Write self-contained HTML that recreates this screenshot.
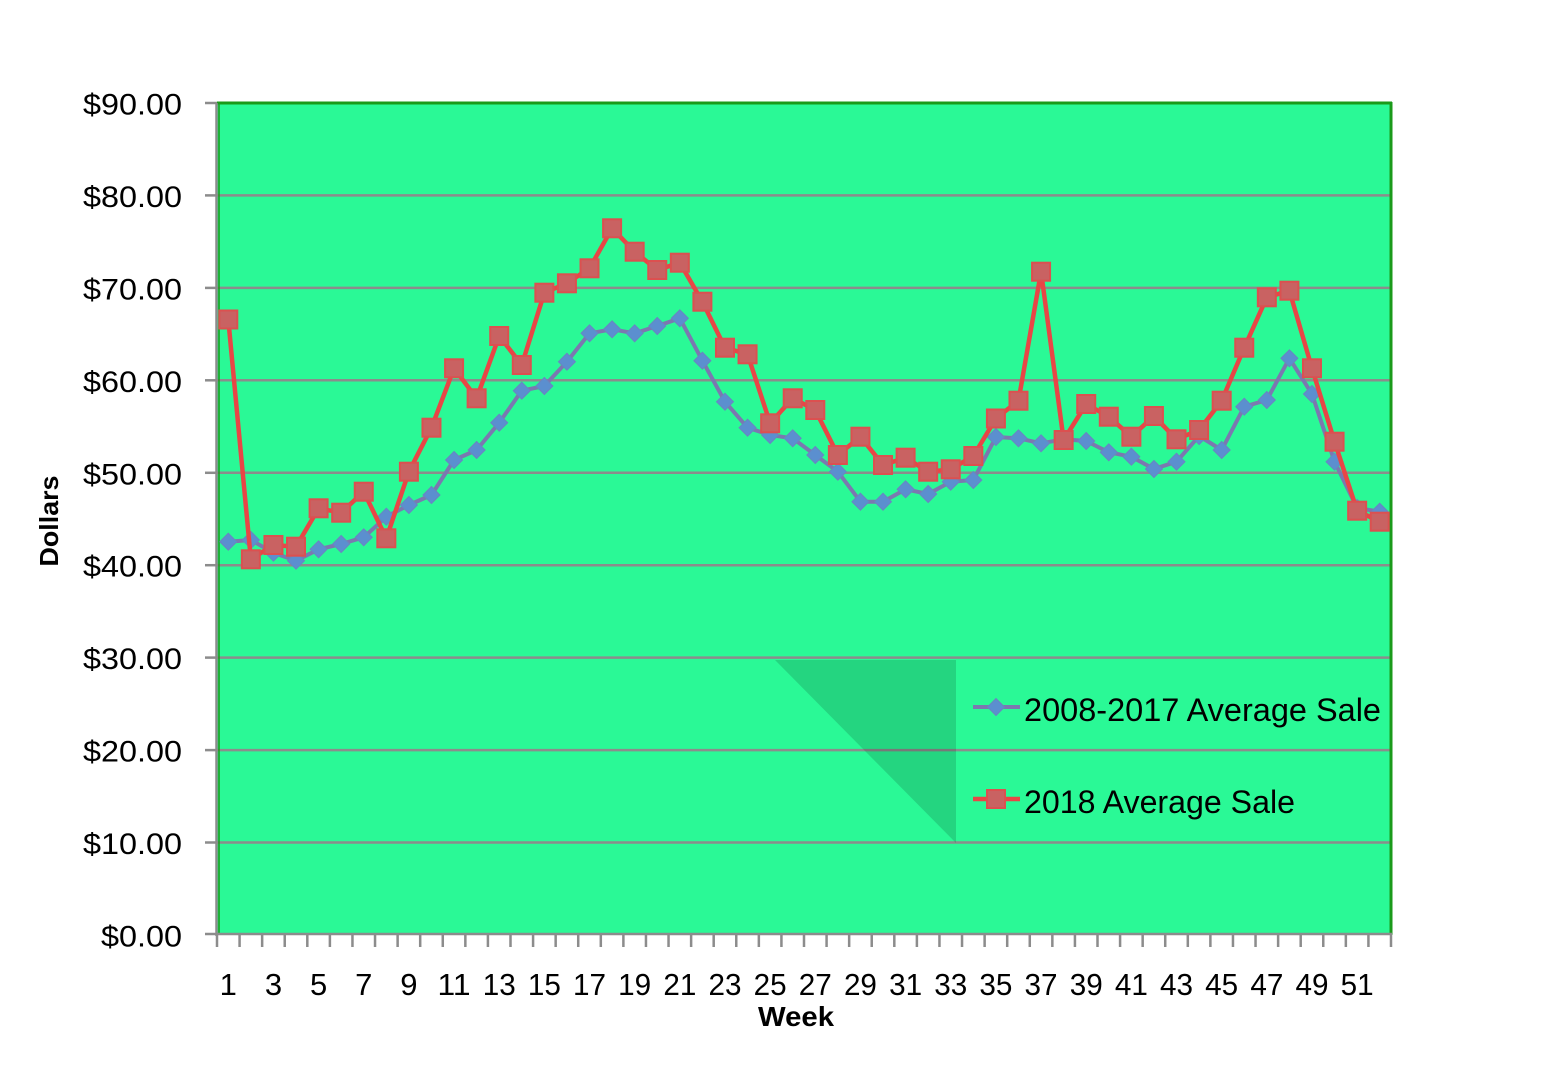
<!DOCTYPE html>
<html>
<head>
<meta charset="utf-8">
<style>
  html,body{margin:0;padding:0;background:#fff;}
  svg{display:block;}
  text{font-family:"Liberation Sans",Arial,sans-serif;fill:#000;}
</style>
</head>
<body>
<svg width="1568" height="1068" viewBox="0 0 1568 1068" xmlns="http://www.w3.org/2000/svg">
  <defs>
    <path id="dm" d="M0 -8.5L8.5 0L0 8.5L-8.5 0Z" fill="#5b8fcf" stroke="#6a86c0" stroke-width="1"/>
    <rect id="sq" x="-9" y="-9" width="18" height="18" fill="#c96262" stroke="#dc5050" stroke-width="2"/>
  </defs>

  <!-- plot background -->
  <rect x="217" y="103" width="1174" height="832" fill="#2af996"/>

  <!-- gridlines -->
  <g stroke="#8c8c8c" stroke-width="2.5">
    <line x1="217" y1="195.4" x2="1391" y2="195.4"/>
    <line x1="217" y1="287.9" x2="1391" y2="287.9"/>
    <line x1="217" y1="380.3" x2="1391" y2="380.3"/>
    <line x1="217" y1="472.8" x2="1391" y2="472.8"/>
    <line x1="217" y1="565.2" x2="1391" y2="565.2"/>
    <line x1="217" y1="657.6" x2="1391" y2="657.6"/>
    <line x1="217" y1="750.1" x2="1391" y2="750.1"/>
    <line x1="217" y1="842.5" x2="1391" y2="842.5"/>
  </g>

  <!-- legend shadow -->
  <polygon points="775,660 956,660 956,843" fill="#000" fill-opacity="0.14"/>

  <!-- borders -->
  <line x1="217" y1="103" x2="1392" y2="103" stroke="#1a9a1a" stroke-width="3"/>
  <line x1="1391" y1="102" x2="1391" y2="935" stroke="#1a9a1a" stroke-width="3"/>
  <line x1="219" y1="103" x2="219" y2="935" stroke="#1a9a1a" stroke-width="1.5"/>
  <line x1="216.5" y1="103" x2="216.5" y2="936" stroke="#8c8c8c" stroke-width="2.5"/>
  <line x1="205" y1="934" x2="1392" y2="934" stroke="#8c8c8c" stroke-width="2.5"/>

  <!-- y ticks -->
  <g stroke="#8c8c8c" stroke-width="2.5">
    <line x1="205" y1="103" x2="217" y2="103"/>
    <line x1="205" y1="195.4" x2="217" y2="195.4"/>
    <line x1="205" y1="287.9" x2="217" y2="287.9"/>
    <line x1="205" y1="380.3" x2="217" y2="380.3"/>
    <line x1="205" y1="472.8" x2="217" y2="472.8"/>
    <line x1="205" y1="565.2" x2="217" y2="565.2"/>
    <line x1="205" y1="657.6" x2="217" y2="657.6"/>
    <line x1="205" y1="750.1" x2="217" y2="750.1"/>
    <line x1="205" y1="842.5" x2="217" y2="842.5"/>
  </g>

  <!-- x ticks -->
  <path stroke="#8c8c8c" stroke-width="2.5" fill="none" d="
  M217 934v13 M239.58 934v13 M262.15 934v13 M284.73 934v13 M307.31 934v13 M329.89 934v13 M352.46 934v13 M375.04 934v13 M397.62 934v13 M420.19 934v13
  M442.77 934v13 M465.35 934v13 M487.92 934v13 M510.5 934v13 M533.08 934v13 M555.66 934v13 M578.23 934v13 M600.81 934v13 M623.39 934v13 M645.96 934v13
  M668.54 934v13 M691.12 934v13 M713.69 934v13 M736.27 934v13 M758.85 934v13 M781.43 934v13 M804 934v13 M826.58 934v13 M849.16 934v13 M871.73 934v13
  M894.31 934v13 M916.89 934v13 M939.46 934v13 M962.04 934v13 M984.62 934v13 M1007.2 934v13 M1029.77 934v13 M1052.35 934v13 M1074.93 934v13 M1097.5 934v13
  M1120.08 934v13 M1142.66 934v13 M1165.23 934v13 M1187.81 934v13 M1210.39 934v13 M1232.97 934v13 M1255.54 934v13 M1278.12 934v13 M1300.7 934v13 M1323.27 934v13
  M1345.85 934v13 M1368.43 934v13 M1391 934v13"/>

  <!-- y labels -->
  <g font-size="30" text-anchor="end">
    <text x="182" y="114.5" textLength="99" lengthAdjust="spacingAndGlyphs">$90.00</text>
    <text x="182" y="206.9" textLength="99" lengthAdjust="spacingAndGlyphs">$80.00</text>
    <text x="182" y="299.4" textLength="99" lengthAdjust="spacingAndGlyphs">$70.00</text>
    <text x="182" y="391.8" textLength="99" lengthAdjust="spacingAndGlyphs">$60.00</text>
    <text x="182" y="484.3" textLength="99" lengthAdjust="spacingAndGlyphs">$50.00</text>
    <text x="182" y="576.7" textLength="99" lengthAdjust="spacingAndGlyphs">$40.00</text>
    <text x="182" y="669.1" textLength="99" lengthAdjust="spacingAndGlyphs">$30.00</text>
    <text x="182" y="761.6" textLength="99" lengthAdjust="spacingAndGlyphs">$20.00</text>
    <text x="182" y="854" textLength="99" lengthAdjust="spacingAndGlyphs">$10.00</text>
    <text x="182" y="946.5" textLength="81" lengthAdjust="spacingAndGlyphs">$0.00</text>
  </g>

  <!-- x labels -->
  <g font-size="31" text-anchor="middle">
    <text x="228.29" y="995">1</text>
    <text x="273.44" y="995">3</text>
    <text x="318.6" y="995">5</text>
    <text x="363.75" y="995">7</text>
    <text x="408.9" y="995">9</text>
    <text x="454.06" y="995" textLength="33" lengthAdjust="spacingAndGlyphs">11</text>
    <text x="499.21" y="995" textLength="33" lengthAdjust="spacingAndGlyphs">13</text>
    <text x="544.37" y="995" textLength="33" lengthAdjust="spacingAndGlyphs">15</text>
    <text x="589.52" y="995" textLength="33" lengthAdjust="spacingAndGlyphs">17</text>
    <text x="634.67" y="995" textLength="33" lengthAdjust="spacingAndGlyphs">19</text>
    <text x="679.83" y="995" textLength="33" lengthAdjust="spacingAndGlyphs">21</text>
    <text x="724.98" y="995" textLength="33" lengthAdjust="spacingAndGlyphs">23</text>
    <text x="770.14" y="995" textLength="33" lengthAdjust="spacingAndGlyphs">25</text>
    <text x="815.29" y="995" textLength="33" lengthAdjust="spacingAndGlyphs">27</text>
    <text x="860.44" y="995" textLength="33" lengthAdjust="spacingAndGlyphs">29</text>
    <text x="905.6" y="995" textLength="33" lengthAdjust="spacingAndGlyphs">31</text>
    <text x="950.75" y="995" textLength="33" lengthAdjust="spacingAndGlyphs">33</text>
    <text x="995.91" y="995" textLength="33" lengthAdjust="spacingAndGlyphs">35</text>
    <text x="1041.06" y="995" textLength="33" lengthAdjust="spacingAndGlyphs">37</text>
    <text x="1086.21" y="995" textLength="33" lengthAdjust="spacingAndGlyphs">39</text>
    <text x="1131.37" y="995" textLength="33" lengthAdjust="spacingAndGlyphs">41</text>
    <text x="1176.52" y="995" textLength="33" lengthAdjust="spacingAndGlyphs">43</text>
    <text x="1221.68" y="995" textLength="33" lengthAdjust="spacingAndGlyphs">45</text>
    <text x="1266.83" y="995" textLength="33" lengthAdjust="spacingAndGlyphs">47</text>
    <text x="1311.98" y="995" textLength="33" lengthAdjust="spacingAndGlyphs">49</text>
    <text x="1357.14" y="995" textLength="33" lengthAdjust="spacingAndGlyphs">51</text>
  </g>

  <!-- axis titles -->
  <text x="796" y="1026" font-size="28" font-weight="bold" text-anchor="middle" textLength="76" lengthAdjust="spacingAndGlyphs">Week</text>
  <text transform="translate(58,521) rotate(-90)" font-size="26" font-weight="bold" text-anchor="middle" textLength="91" lengthAdjust="spacingAndGlyphs">Dollars</text>

  <!-- series 1: 2008-2017 -->
  <polyline fill="none" stroke="#7b78b0" stroke-width="4" stroke-linejoin="round" points="
  228.29,541.7 250.86,540 273.44,552.7 296.02,560.7 318.6,549.3 341.17,544 363.75,537.3 386.33,516.7 408.9,505 431.48,495
  454.06,460 476.63,450 499.21,422.7 521.79,390.7 544.37,386 566.94,361.7 589.52,333.3 612.1,329.3 634.67,333.3 657.25,326
  679.83,318.3 702.4,360.7 724.98,401.7 747.56,427.7 770.14,435 792.71,438.3 815.29,455 837.87,471.7 860.44,501.7 883.02,501.7
  905.6,489.3 928.17,494 950.75,481.7 973.33,480 995.91,437 1018.48,438.3 1041.06,443.3 1063.64,439.3 1086.21,441 1108.79,452.3
  1131.37,456.7 1153.94,469 1176.52,461.7 1199.1,436 1221.68,450 1244.25,406.7 1266.83,400 1289.41,358.3 1311.98,394 1334.56,461.7
  1357.14,508 1379.71,511.7"/>
  <g>
    <use href="#dm" x="228.29" y="541.7"/><use href="#dm" x="250.86" y="540"/><use href="#dm" x="273.44" y="552.7"/><use href="#dm" x="296.02" y="560.7"/>
    <use href="#dm" x="318.6" y="549.3"/><use href="#dm" x="341.17" y="544"/><use href="#dm" x="363.75" y="537.3"/><use href="#dm" x="386.33" y="516.7"/>
    <use href="#dm" x="408.9" y="505"/><use href="#dm" x="431.48" y="495"/><use href="#dm" x="454.06" y="460"/><use href="#dm" x="476.63" y="450"/>
    <use href="#dm" x="499.21" y="422.7"/><use href="#dm" x="521.79" y="390.7"/><use href="#dm" x="544.37" y="386"/><use href="#dm" x="566.94" y="361.7"/>
    <use href="#dm" x="589.52" y="333.3"/><use href="#dm" x="612.1" y="329.3"/><use href="#dm" x="634.67" y="333.3"/><use href="#dm" x="657.25" y="326"/>
    <use href="#dm" x="679.83" y="318.3"/><use href="#dm" x="702.4" y="360.7"/><use href="#dm" x="724.98" y="401.7"/><use href="#dm" x="747.56" y="427.7"/>
    <use href="#dm" x="770.14" y="435"/><use href="#dm" x="792.71" y="438.3"/><use href="#dm" x="815.29" y="455"/><use href="#dm" x="837.87" y="471.7"/>
    <use href="#dm" x="860.44" y="501.7"/><use href="#dm" x="883.02" y="501.7"/><use href="#dm" x="905.6" y="489.3"/><use href="#dm" x="928.17" y="494"/>
    <use href="#dm" x="950.75" y="481.7"/><use href="#dm" x="973.33" y="480"/><use href="#dm" x="995.91" y="437"/><use href="#dm" x="1018.48" y="438.3"/>
    <use href="#dm" x="1041.06" y="443.3"/><use href="#dm" x="1063.64" y="439.3"/><use href="#dm" x="1086.21" y="441"/><use href="#dm" x="1108.79" y="452.3"/>
    <use href="#dm" x="1131.37" y="456.7"/><use href="#dm" x="1153.94" y="469"/><use href="#dm" x="1176.52" y="461.7"/><use href="#dm" x="1199.1" y="436"/>
    <use href="#dm" x="1221.68" y="450"/><use href="#dm" x="1244.25" y="406.7"/><use href="#dm" x="1266.83" y="400"/><use href="#dm" x="1289.41" y="358.3"/>
    <use href="#dm" x="1311.98" y="394"/><use href="#dm" x="1334.56" y="461.7"/><use href="#dm" x="1357.14" y="508"/><use href="#dm" x="1379.71" y="511.7"/>
  </g>

  <!-- series 2: 2018 -->
  <polyline fill="none" stroke="#e84646" stroke-width="4.5" stroke-linejoin="round" points="
  228.29,319.5 250.86,559.3 273.44,545 296.02,546.7 318.6,508.3 341.17,512.7 363.75,491.7 386.33,538.3 408.9,471.7 431.48,427.7
  454.06,368.3 476.63,398.3 499.21,336 521.79,365 544.37,292.7 566.94,283.3 589.52,268.3 612.1,228.3 634.67,251.7 657.25,270
  679.83,262.7 702.4,301.7 724.98,347.7 747.56,354.3 770.14,423.3 792.71,398.3 815.29,410 837.87,455 860.44,436.7 883.02,465
  905.6,457.7 928.17,471.7 950.75,469.3 973.33,456 995.91,418.5 1018.48,400.7 1041.06,271.7 1063.64,440 1086.21,404 1108.79,416.7
  1131.37,436.7 1153.94,416 1176.52,439.3 1199.1,430 1221.68,400.7 1244.25,347.7 1266.83,297.3 1289.41,290.7 1311.98,368.3 1334.56,441.7
  1357.14,510.7 1379.71,521.7"/>
  <g>
    <use href="#sq" x="228.29" y="319.5"/><use href="#sq" x="250.86" y="559.3"/><use href="#sq" x="273.44" y="545"/><use href="#sq" x="296.02" y="546.7"/>
    <use href="#sq" x="318.6" y="508.3"/><use href="#sq" x="341.17" y="512.7"/><use href="#sq" x="363.75" y="491.7"/><use href="#sq" x="386.33" y="538.3"/>
    <use href="#sq" x="408.9" y="471.7"/><use href="#sq" x="431.48" y="427.7"/><use href="#sq" x="454.06" y="368.3"/><use href="#sq" x="476.63" y="398.3"/>
    <use href="#sq" x="499.21" y="336"/><use href="#sq" x="521.79" y="365"/><use href="#sq" x="544.37" y="292.7"/><use href="#sq" x="566.94" y="283.3"/>
    <use href="#sq" x="589.52" y="268.3"/><use href="#sq" x="612.1" y="228.3"/><use href="#sq" x="634.67" y="251.7"/><use href="#sq" x="657.25" y="270"/>
    <use href="#sq" x="679.83" y="262.7"/><use href="#sq" x="702.4" y="301.7"/><use href="#sq" x="724.98" y="347.7"/><use href="#sq" x="747.56" y="354.3"/>
    <use href="#sq" x="770.14" y="423.3"/><use href="#sq" x="792.71" y="398.3"/><use href="#sq" x="815.29" y="410"/><use href="#sq" x="837.87" y="455"/>
    <use href="#sq" x="860.44" y="436.7"/><use href="#sq" x="883.02" y="465"/><use href="#sq" x="905.6" y="457.7"/><use href="#sq" x="928.17" y="471.7"/>
    <use href="#sq" x="950.75" y="469.3"/><use href="#sq" x="973.33" y="456"/><use href="#sq" x="995.91" y="418.5"/><use href="#sq" x="1018.48" y="400.7"/>
    <use href="#sq" x="1041.06" y="271.7"/><use href="#sq" x="1063.64" y="440"/><use href="#sq" x="1086.21" y="404"/><use href="#sq" x="1108.79" y="416.7"/>
    <use href="#sq" x="1131.37" y="436.7"/><use href="#sq" x="1153.94" y="416"/><use href="#sq" x="1176.52" y="439.3"/><use href="#sq" x="1199.1" y="430"/>
    <use href="#sq" x="1221.68" y="400.7"/><use href="#sq" x="1244.25" y="347.7"/><use href="#sq" x="1266.83" y="297.3"/><use href="#sq" x="1289.41" y="290.7"/>
    <use href="#sq" x="1311.98" y="368.3"/><use href="#sq" x="1334.56" y="441.7"/><use href="#sq" x="1357.14" y="510.7"/><use href="#sq" x="1379.71" y="521.7"/>
  </g>

  <!-- legend -->
  <line x1="973" y1="707" x2="1020" y2="707" stroke="#7b78b0" stroke-width="4"/>
  <use href="#dm" x="996" y="707"/>
  <text x="1024" y="721" font-size="32" textLength="357" lengthAdjust="spacingAndGlyphs">2008-2017 Average Sale</text>
  <line x1="973" y1="799" x2="1020" y2="799" stroke="#e84646" stroke-width="4.5"/>
  <use href="#sq" x="996" y="799"/>
  <text x="1024" y="813" font-size="32" textLength="271" lengthAdjust="spacingAndGlyphs">2018 Average Sale</text>
</svg>
</body>
</html>
